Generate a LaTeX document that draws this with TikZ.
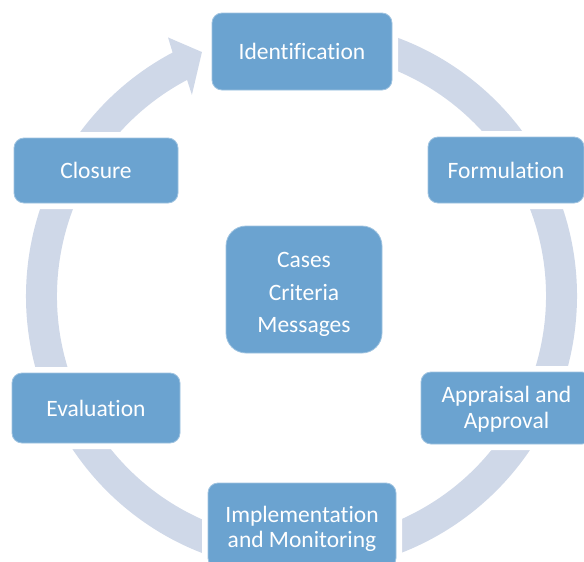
\documentclass[tikz,border=0pt]{standalone}
\usepackage{fontspec}
\setmainfont{Carlito}[Ligatures=NoCommon]
\definecolor{boxc}{HTML}{6BA3D0}
\definecolor{ringc}{HTML}{CFD8E8}
\tikzset{
  box/.style={rectangle, rounded corners=10pt, fill=boxc, draw=white!35!boxc, line width=0.8pt,
    text=white, align=center, inner sep=0pt, outer sep=0pt,
    font=\fontsize{23.5}{25.5}\selectfont,
    preaction={draw=white, line width=12pt}},
  hub/.style={box, rounded corners=20pt, font=\fontsize{23.5}{32.5}\selectfont}
}
\begin{document}
\begin{tikzpicture}[x=1pt,y=-1pt]
\useasboundingbox (0,0) rectangle (584,562);
% ring with arrow
\begin{scope}[shift={(301.5,296)}, yscale=-1]
\fill[ringc] (85:275.5) arc[start angle=85, end angle=-242.1, radius=275.5]
  -- (-242.7:291) -- (-247.8:263.5) -- (-241.4:229)
  -- (-242.1:244.5) arc[start angle=-242.1, end angle=85, radius=244.5] -- cycle;
\end{scope}
% boxes
\node[box, minimum width=180pt, minimum height=77pt] (ident) at (302,51.5) {Identification};
\node[box, minimum width=156pt, minimum height=66pt] (form) at (506,170) {Formulation};
\node[box, minimum width=171pt, minimum height=72pt] (appr) at (506.5,408) {\rule{0pt}{19pt}Appraisal and\\Approval};
\node[box, minimum width=188pt, minimum height=85pt] (impl) at (302,525.5) {\rule{0pt}{23pt}Implementation\\and Monitoring};
\node[box, minimum width=168pt, minimum height=70pt] (eval) at (96,408) {Evaluation};
\node[box, minimum width=164pt, minimum height=65pt] (clos) at (96,170.5) {Closure};
\node[hub, minimum width=156pt, minimum height=127pt] (center) at (304,289.5) {\rule{0pt}{26pt}Cases\\Criteria\\Messages};
\end{tikzpicture}
\end{document}
